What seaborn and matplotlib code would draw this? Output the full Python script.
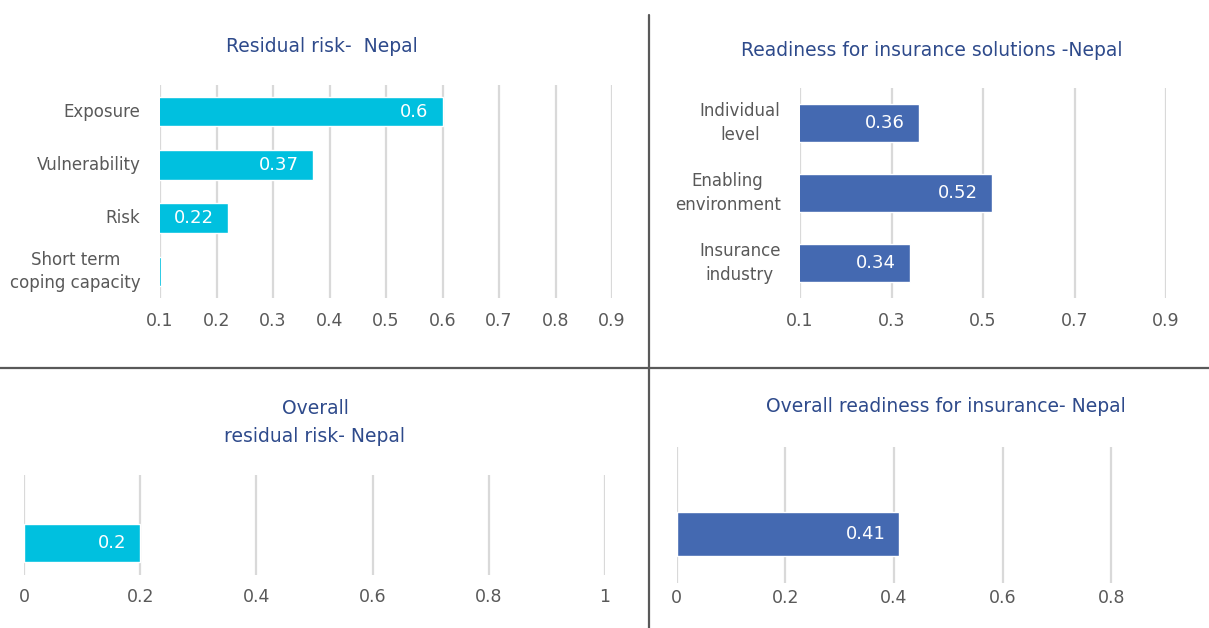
import matplotlib
matplotlib.use("Agg")
import matplotlib.pyplot as plt
from matplotlib.lines import Line2D
import seaborn as sns
import pandas as pd

# --- data -------------------------------------------------------------
risk_categories = ["Exposure", "Vulnerability", "Risk", "Short term\ncoping capacity"]
risk_values = [0.6, 0.37, 0.22, 0.102]
risk_labels = ["0.6", "0.37", "0.22", ""]
risk_ticks = [0.1, 0.2, 0.3, 0.4, 0.5, 0.6, 0.7, 0.8, 0.9]

readiness_categories = ["Individual\nlevel", "Enabling\nenvironment", "Insurance\nindustry"]
readiness_values = [0.36, 0.52, 0.34]
readiness_ticks = [0.1, 0.3, 0.5, 0.7, 0.9]

overall_risk_value = [0.2]
overall_risk_ticks = [0, 0.2, 0.4, 0.6, 0.8, 1]

overall_readiness_value = [0.41]
overall_readiness_ticks = [0, 0.2, 0.4, 0.6, 0.8]

# --- style ------------------------------------------------------------
sns.set_theme(style="white")
plt.rcParams["font.family"] = ["DejaVu Sans"]

TEAL = "#00C0DF"
BLUE = "#4469B1"
TITLE = "#2E4A8B"
TICK = "#595959"
GRID = "#D9D9D9"
DIVIDER = "#595959"

W, H = 1209, 628
fig = plt.figure(figsize=(W / 100, H / 100), dpi=100)


def px_axes(left, right, top, bottom):
    return fig.add_axes([left / W, 1 - bottom / H, (right - left) / W, (bottom - top) / H])


def style_axis(ax, ticks, xlim, ylim, xpad):
    ax.set_xlim(*xlim)
    ax.set_ylim(*ylim)
    ax.set_xticks(ticks)
    ax.set_xticklabels([f"{t:g}" for t in ticks])
    ax.set_xlabel("")
    ax.set_ylabel("")
    for s in ax.spines.values():
        s.set_visible(False)
    ax.set_axisbelow(True)
    ax.grid(axis="x", color=GRID, linewidth=1.6)
    ax.grid(axis="y", visible=False)
    ax.tick_params(axis="x", length=0, pad=xpad, labelsize=12.5, labelcolor=TICK)
    ax.tick_params(axis="y", length=0, pad=14, labelsize=12, labelcolor=TICK)
    for lab in ax.get_yticklabels():
        lab.set_multialignment("center")
        lab.set_linespacing(1.4)
        lab.set_verticalalignment("center")


def value_labels(ax, values, texts):
    for i, (v, t) in enumerate(zip(values, texts)):
        if t:
            ax.annotate(t, xy=(v, i), xytext=(-10, 0), textcoords="offset points",
                        ha="right", va="center", color="white", fontsize=13)


# Residual risk - Nepal
ax1 = px_axes(160, 612, 85, 298)
df1 = pd.DataFrame({"cat": risk_categories, "val": risk_values})
sns.barplot(data=df1, x="val", y="cat", orient="h", color=TEAL, width=0.55,
            saturation=1, ax=ax1)
style_axis(ax1, risk_ticks, (0.1, 0.9), (3.5, -0.5), 10)
value_labels(ax1, risk_values, risk_labels)
fig.text(322 / W, 1 - 46 / H, "Residual risk-  Nepal", ha="center", va="center",
         color=TITLE, fontsize=13.5)

# Readiness for insurance solutions - Nepal
ax2 = px_axes(800, 1166, 88, 298)
df2 = pd.DataFrame({"cat": readiness_categories, "val": readiness_values})
sns.barplot(data=df2, x="val", y="cat", orient="h", color=BLUE, width=0.53,
            saturation=1, ax=ax2)
style_axis(ax2, readiness_ticks, (0.1, 0.9), (2.5, -0.5), 10)
value_labels(ax2, readiness_values, [f"{v:g}" for v in readiness_values])
fig.text(932 / W, 1 - 50 / H, "Readiness for insurance solutions -Nepal", ha="center",
         va="center", color=TITLE, fontsize=13.5)

# Overall residual risk - Nepal
ax3 = px_axes(24, 605, 475, 575)
df3 = pd.DataFrame({"cat": ["Overall"], "val": overall_risk_value})
sns.barplot(data=df3, x="val", y="cat", orient="h", color=TEAL, width=0.38,
            saturation=1, ax=ax3)
style_axis(ax3, overall_risk_ticks, (0, 1), (0.32, -0.68), 9)
ax3.set_yticks([])
value_labels(ax3, overall_risk_value, [f"{v:g}" for v in overall_risk_value])
fig.text(315 / W, 1 - 423 / H, "Overall\nresidual risk- Nepal", ha="center", va="center",
         color=TITLE, fontsize=13.5, linespacing=1.6)

# Overall readiness for insurance - Nepal
ax4 = px_axes(676.7, 1209, 447, 583)
df4 = pd.DataFrame({"cat": ["Overall"], "val": overall_readiness_value})
sns.barplot(data=df4, x="val", y="cat", orient="h", color=BLUE, width=0.33,
            saturation=1, ax=ax4)
style_axis(ax4, overall_readiness_ticks, (0, 0.98), (0.36, -0.64), 4)
ax4.set_yticks([])
value_labels(ax4, overall_readiness_value, [f"{v:g}" for v in overall_readiness_value])
fig.text(946 / W, 1 - 407 / H, "Overall readiness for insurance- Nepal", ha="center",
         va="center", color=TITLE, fontsize=13.5)

# quadrant dividers
fig.add_artist(Line2D([649 / W, 649 / W], [0, 1 - 15 / H], color=DIVIDER, lw=1.6))
fig.add_artist(Line2D([0, 1], [1 - 368 / H, 1 - 368 / H], color=DIVIDER, lw=1.6))

fig.savefig("out.png", dpi=100, facecolor="white")
